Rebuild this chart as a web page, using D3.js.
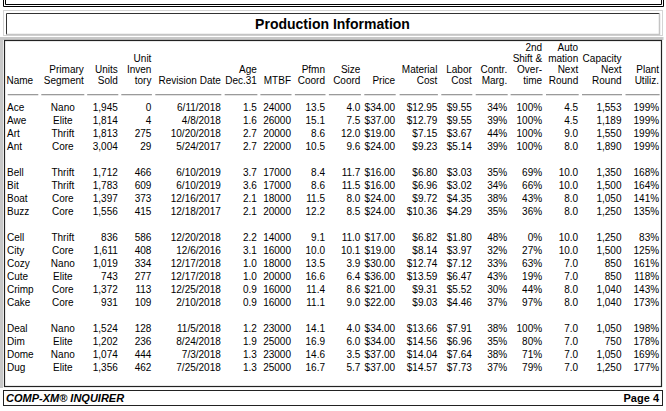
<!DOCTYPE html>
<html>
<head>
<meta charset="utf-8">
<script src="https://cdn.jsdelivr.net/npm/d3@7"></script>
<style>
  html, body { margin: 0; padding: 0; background: #fff; }
  svg text { font-family: Arial, "Liberation Sans", sans-serif; }
</style>
</head>
<body>
<script>
// ---------------- DATA ----------------
const names = ["Ace","Awe","Art","Ant","Bell","Bit","Boat","Buzz","Cell","City","Cozy","Cute","Crimp","Cake","Deal","Dim","Dome","Dug"];
const segments = ["Nano","Elite","Thrift","Core","Thrift","Thrift","Core","Core","Thrift","Core","Nano","Elite","Core","Core","Nano","Elite","Nano","Elite"];
const unitsSold = [1945,1814,1813,3004,1712,1783,1397,1556,836,1611,1019,743,1372,931,1524,1202,1074,1356];
const unitInventory = [0,4,275,29,466,609,373,415,586,408,334,277,113,109,128,236,444,462];
const revisionDates = ["6/11/2018","4/8/2018","10/20/2018","5/24/2017","6/10/2019","6/10/2019","12/16/2017","12/18/2017","12/20/2018","12/6/2016","12/17/2018","12/17/2018","12/25/2018","2/10/2018","11/5/2018","8/24/2018","7/3/2018","7/25/2018"];
const ageDec31 = [1.5,1.6,2.7,2.7,3.7,3.6,2.1,2.1,2.2,3.1,1.0,1.0,0.9,0.9,1.2,1.9,1.3,1.3];
const mtbf = [24000,26000,20000,22000,17000,17000,18000,20000,14000,16000,18000,20000,16000,16000,23000,25000,23000,25000];
const pfmnCoord = [13.5,15.1,8.6,10.5,8.4,8.6,11.5,12.2,9.1,10.0,13.5,16.6,11.4,11.1,14.1,16.9,14.6,16.7];
const sizeCoord = [4.0,7.5,12.0,9.6,11.7,11.5,8.0,8.5,11.0,10.1,3.9,6.4,8.6,9.0,4.0,6.0,3.5,5.7];
const prices = [34,37,19,24,16,16,24,24,17,19,30,36,21,22,34,34,37,37];
const materialCost = [12.95,12.79,7.15,9.23,6.80,6.96,9.72,10.36,6.82,8.14,12.74,13.59,9.31,9.03,13.66,14.56,14.04,14.57];
const laborCost = [9.55,9.55,3.67,5.14,3.03,3.02,4.35,4.29,1.80,3.97,7.12,6.47,5.52,4.46,7.91,6.96,7.64,7.73];
const contrMargin = [34,39,44,39,35,34,38,35,48,32,33,43,30,37,38,35,38,37];
const overtime = [100,100,100,100,69,66,43,36,0,27,63,19,44,97,100,80,71,79];
const automationNext = [4.5,4.5,9.0,8.0,10.0,10.0,8.0,8.0,10.0,10.0,7.0,7.0,8.0,8.0,7.0,7.0,7.0,7.0];
const capacityNext = [1553,1189,1550,1890,1350,1500,1050,1250,1250,1500,850,850,1040,1040,1050,750,1050,1250];
const plantUtil = [199,199,199,199,168,164,141,135,83,125,161,118,143,173,198,178,169,177];

const headerLabels = [
  ["Name"], ["Primary","Segment"], ["Units","Sold"], ["Unit","Inven","tory"],
  ["Revision Date"], ["Age","Dec.31"], ["MTBF"], ["Pfmn","Coord"], ["Size","Coord"],
  ["Price"], ["Material","Cost"], ["Labor","Cost"], ["Contr.","Marg."],
  ["2nd","Shift &","Over-","time"], ["Auto","mation","Next","Round"],
  ["Capacity","Next","Round"], ["Plant","Utiliz."]
];
const titleText = "Production Information";
const footerLeft = "COMP-XM\u00AE INQUIRER";
const footerRight = "Page 4";

// ---------------- LAYOUT ----------------
const W = 666, H = 411;
const fNum = d3.format(",");
const f1 = d3.format(".1f");
const fMoney = v => "$" + d3.format(".2f")(v);
const fPct = v => v + "%";

const columns = [
  {key:"name", vals:names, fmt:v=>v, align:"start"},
  {key:"seg", vals:segments, fmt:v=>v, align:"middle"},
  {key:"units", vals:unitsSold, fmt:fNum},
  {key:"inv", vals:unitInventory, fmt:v=>String(v)},
  {key:"rev", vals:revisionDates, fmt:v=>v},
  {key:"age", vals:ageDec31, fmt:f1},
  {key:"mtbf", vals:mtbf, fmt:v=>String(v)},
  {key:"pfmn", vals:pfmnCoord, fmt:f1},
  {key:"size", vals:sizeCoord, fmt:f1},
  {key:"price", vals:prices, fmt:fMoney},
  {key:"mat", vals:materialCost, fmt:fMoney},
  {key:"lab", vals:laborCost, fmt:fMoney},
  {key:"cm", vals:contrMargin, fmt:fPct},
  {key:"ot", vals:overtime, fmt:fPct},
  {key:"auto", vals:automationNext, fmt:f1},
  {key:"cap", vals:capacityNext, fmt:fNum},
  {key:"pu", vals:plantUtil, fmt:fPct}
];
const keys = columns.map(c => c.key);
const colLeft = d3.scaleOrdinal().domain(keys)
  .range([7.7,41.3,87.2,121.3,155.3,224.7,260.4,294.9,328.9,364.3,399.6,441.3,475.7,510.6,546,582,625.5]);
const colRight = d3.scaleOrdinal().domain(keys)
  .range([38.3,84.3,118.3,151.9,221.3,257.4,291.5,325.5,360.9,395.7,437.9,472.3,507.7,542.6,578.7,622,659.6]);

// row slots: a blank row between groups (grouped by first letter)
let slot = -1, prevLetter = null;
const rowSlot = names.map(n => {
  const l = n[0];
  if (prevLetter !== null && l !== prevLetter) slot += 2; else slot += 1;
  prevLetter = l;
  return slot;
});
const y = d3.scaleLinear().domain([0, 20]).range([107.8, 367.8]);
const headerY = d3.scaleLinear().domain([0, 3]).range([47.9, 80.5]);

const svg = d3.select("body").append("svg").attr("width", W).attr("height", H);
svg.append("rect").attr("width", W).attr("height", H).attr("fill", "#fff");

// top frame (double line, cut off at top)
svg.append("path").attr("d", "M3.5,-5V6.5H663.5V-5").attr("fill","none").attr("stroke","#000");
svg.append("path").attr("d", "M5.5,-5V4.5H661.5V-5").attr("fill","none").attr("stroke","#000");

// title cell
svg.append("rect").attr("x",3.5).attr("y",10.5).attr("width",659).attr("height",25)
  .attr("fill","none").attr("stroke","#d4d4d4");
svg.append("path").attr("d","M6.5,34.5V13.5H659.5").attr("fill","none").attr("stroke","#333");
svg.append("path").attr("d","M6.5,34.5H659.5V13.5").attr("fill","none").attr("stroke","#c4c4c4").attr("stroke-width",1.5);
svg.append("text").attr("x", 332.5).attr("y", 24).attr("dy","0.35em")
  .attr("text-anchor","middle").attr("font-size",14).attr("font-weight","bold")
  .text(titleText);

// main box
svg.append("path").attr("d","M1.5,388V38.5H663.5").attr("fill","none").attr("stroke","#c8c8c8").attr("stroke-width",3);
svg.append("rect").attr("x",4.5).attr("y",40.5).attr("width",657).attr("height",346)
  .attr("fill","none").attr("stroke","#222").attr("stroke-width",1.2);

// headers
const hdr = svg.append("g");
columns.forEach((c, i) => {
  const lines = headerLabels[i];
  const start = 4 - lines.length;
  lines.forEach((t, j) => {
    const isName = c.key === "name";
    hdr.append("text")
      .attr("x", isName ? 6.5 : colRight(c.key) - 0.5)
      .attr("y", headerY(start + j)).attr("dy","0.35em")
      .attr("text-anchor", isName ? "start" : "end")
      .attr("font-size", 10).text(t);
  });
});

// underline segments
const ul = svg.append("g");
keys.forEach(k => {
  ul.append("line").attr("x1", colLeft(k)).attr("x2", colRight(k)).attr("y1",94.5).attr("y2",94.5)
    .attr("stroke","#9a9a9a");
  ul.append("line").attr("x1", colLeft(k)).attr("x2", colRight(k)).attr("y1",95.5).attr("y2",95.5)
    .attr("stroke","#e2e2e2");
});

// body
const body = svg.append("g");
columns.forEach(c => {
  body.selectAll(null).data(c.vals).join("text")
    .attr("x", c.align === "start" ? 7 : c.align === "middle" ? 62.8 : colRight(c.key) - 0.5)
    .attr("y", (d, i) => y(rowSlot[i])).attr("dy","0.35em")
    .attr("text-anchor", c.align || "end")
    .attr("font-size", 10)
    .text(d => c.fmt(d));
});

// footer
svg.append("rect").attr("x",3.5).attr("y",390.5).attr("width",659).attr("height",15)
  .attr("fill","none").attr("stroke","#222");
svg.append("text").attr("x",6).attr("y",398).attr("dy","0.35em")
  .attr("font-size",11).attr("font-weight","bold").attr("font-style","italic").text(footerLeft);
svg.append("text").attr("x",659).attr("y",398).attr("dy","0.35em").attr("text-anchor","end")
  .attr("font-size",11).attr("font-weight","bold").text(footerRight);
</script>
</body>
</html>
